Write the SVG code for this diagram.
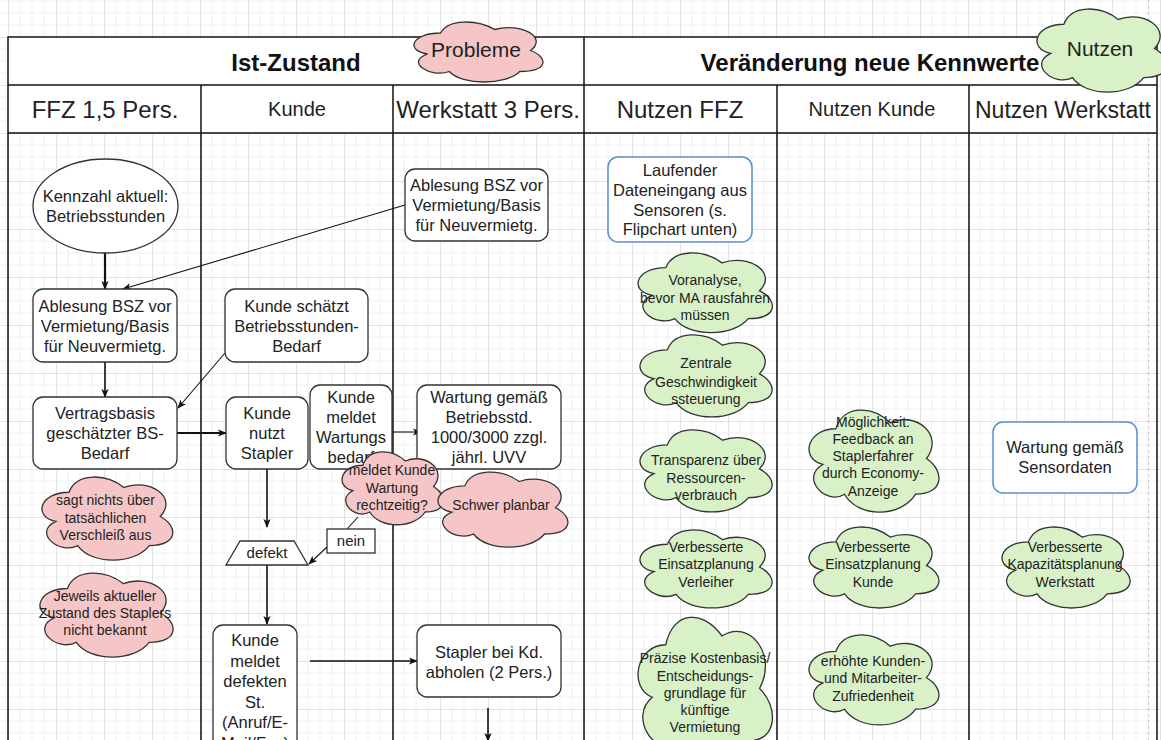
<svg xmlns="http://www.w3.org/2000/svg" xmlns:xlink="http://www.w3.org/1999/xlink" width="1161" height="740" viewBox="0 0 1161 740">
<style>
text{font-family:"Liberation Sans",Arial,sans-serif;fill:#222;text-anchor:middle}
.h1{font-size:24px;font-weight:bold;fill:#111}
.h2{font-size:24px;fill:#222}
.h2s{font-size:20px;fill:#222}
.t{font-size:16.5px}
.c{font-size:14px}
.box{fill:#fff;stroke:#333;stroke-width:1.3}
.bbox{fill:#fff;stroke:#5a8fd0;stroke-width:1.5}
.pink{fill:#f6c6c6;stroke:#333;stroke-width:1.3}
.green{fill:#d8f1c6;stroke:#333;stroke-width:1.3}
.lane{stroke:#111;stroke-width:1.5;fill:none}
.e{stroke:#111;fill:none}
.e1{stroke-width:1.1}
.e2{stroke-width:1.6}
.e3{stroke-width:2.2}
</style>
<defs>
<pattern id="grid" x="8" y="37" width="48" height="48" patternUnits="userSpaceOnUse">
<path d="M12 0V48M24 0V48M36 0V48M0 12H48M0 24H48M0 36H48" stroke="#f1f1f1" stroke-width="1" fill="none"/>
<path d="M0.5 0V48M0 0.5H48" stroke="#e2e2e2" stroke-width="1" fill="none"/>
</pattern>
<path id="cloud" vector-effect="non-scaling-stroke" d="M0.25 0.25C0.05 0.25 0 0.5 0.16 0.55C0 0.66 0.18 0.9 0.31 0.8C0.4 1 0.7 1 0.8 0.8C1 0.8 1 0.6 0.875 0.5C1 0.3 0.8 0.1 0.625 0.2C0.5 0.05 0.3 0.05 0.25 0.25Z"/>
<marker id="arr" viewBox="0 0 10 10" refX="9" refY="5" markerWidth="9" markerHeight="9" markerUnits="userSpaceOnUse" orient="auto">
<path d="M0 1L10 5L0 9L2.5 5Z" fill="#111"/>
</marker>
</defs>
<rect width="1161" height="740" fill="#fff"/>
<rect width="1161" height="740" fill="url(#grid)"/>
<line x1="1148.5" y1="0" x2="1148.5" y2="740" stroke="#c8c8c8" stroke-width="1" stroke-dasharray="3 3"/>

<g id="table">
<rect x="8" y="37" width="1149" height="96" fill="#fff"/>
<path class="lane" d="M8 740V37H1157V740M8 85H1157M8 133H1157M584 37V740M201 85V740M393 85V740M777 85V740M969 85V740"/>
<text class="h1" x="296" y="71">Ist-Zustand</text>
<text class="h1" x="870" y="71">Veränderung neue Kennwerte</text>
<text class="h2" x="105" y="118">FFZ 1,5 Pers.</text>
<text class="h2s" x="297" y="116">Kunde</text>
<text class="h2" x="488" y="118">Werkstatt 3 Pers.</text>
<text class="h2" x="680" y="118">Nutzen FFZ</text>
<text class="h2s" x="872" y="116">Nutzen Kunde</text>
<text class="h2" x="1063" y="118" style="font-size:23px">Nutzen Werkstatt</text>
</g>

<g id="probleme"><use href="#cloud" class="pink" transform="translate(404.6 15.5) scale(144 70)"/><text x="476" y="57" style="font-size:21px">Probleme</text></g>
<g id="nutzen"><use href="#cloud" class="green" transform="translate(1027.6 0) scale(145 97)"/><text x="1100" y="56" style="font-size:21px">Nutzen</text></g>

<g id="connectors">
<line class="e e3" x1="105" y1="253" x2="105" y2="289" marker-end="url(#arr)"/>
<line class="e e1" x1="405" y1="205" x2="123" y2="289" marker-end="url(#arr)"/>
<line class="e e2" x1="105" y1="362" x2="105" y2="397" marker-end="url(#arr)"/>
<line class="e e1" x1="225" y1="353" x2="178" y2="408" marker-end="url(#arr)"/>
<line class="e e3" x1="177" y1="433" x2="226" y2="433" marker-end="url(#arr)"/>
<line class="e e1" x1="392" y1="432" x2="421" y2="432" marker-end="url(#arr)"/>
<line class="e e2" x1="267" y1="469" x2="267" y2="527" marker-end="url(#arr)"/>
<line class="e e1" x1="358" y1="517" x2="347" y2="529"/>
<line class="e e1" x1="327" y1="547" x2="309" y2="564" marker-end="url(#arr)"/>
<line class="e e2" x1="267" y1="565" x2="267" y2="624" marker-end="url(#arr)"/>
<line class="e e2" x1="310" y1="661" x2="417" y2="661" marker-end="url(#arr)"/>
<line class="e e2" x1="488" y1="708" x2="488" y2="741" marker-end="url(#arr)"/>
</g>

<g id="kennzahl"><ellipse cx="105.5" cy="206" rx="72.5" ry="47" class="box"/><text class="t" x="105.5" y="202">Kennzahl aktuell:</text><text class="t" x="105.5" y="222">Betriebsstunden</text></g>
<g id="ablesung-ffz"><rect x="33" y="289" width="144" height="73" rx="10" class="box"/><text class="t" x="105" y="311.5">Ablesung BSZ vor</text><text class="t" x="105" y="331.5">Vermietung/Basis</text><text class="t" x="105" y="351.5">für Neuvermietg.</text></g>
<g id="vertragsbasis"><rect x="33" y="397" width="144" height="72" rx="10" class="box"/><text class="t" x="105" y="419">Vertragsbasis</text><text class="t" x="105" y="439">geschätzter BS-</text><text class="t" x="105" y="459">Bedarf</text></g>
<g id="kunde-schaetzt"><rect x="225" y="289" width="143" height="73" rx="10" class="box"/><text class="t" x="296.5" y="311.5">Kunde schätzt</text><text class="t" x="296.5" y="331.5">Betriebsstunden-</text><text class="t" x="296.5" y="351.5">Bedarf</text></g>
<g id="kunde-nutzt"><rect x="226" y="397" width="82" height="72" rx="10" class="box"/><text class="t" x="267" y="419">Kunde</text><text class="t" x="267" y="439">nutzt</text><text class="t" x="267" y="459">Stapler</text></g>
<g id="kunde-meldet-wartung"><rect x="310" y="385" width="82" height="84" rx="10" class="box"/><text class="t" x="351" y="403">Kunde</text><text class="t" x="351" y="423">meldet</text><text class="t" x="351" y="443">Wartungs</text><text class="t" x="351" y="463">bedarf</text></g>
<g id="ablesung-werkstatt"><rect x="405" y="169" width="143" height="72" rx="10" class="box"/><text class="t" x="476.5" y="191">Ablesung BSZ vor</text><text class="t" x="476.5" y="211">Vermietung/Basis</text><text class="t" x="476.5" y="231">für Neuvermietg.</text></g>
<g id="wartung-betriebsstd"><rect x="417" y="385" width="144" height="84" rx="10" class="box"/><text class="t" x="489" y="403">Wartung gemäß</text><text class="t" x="489" y="423">Betriebsstd.</text><text class="t" x="489" y="443">1000/3000 zzgl.</text><text class="t" x="489" y="463">jährl. UVV</text></g>
<g id="stapler-abholen"><rect x="417" y="625" width="144" height="72" rx="10" class="box"/><text class="t" x="489" y="658">Stapler bei Kd.</text><text class="t" x="489" y="678">abholen (2 Pers.)</text></g>
<g id="kunde-meldet-defekt"><rect x="213" y="625" width="84" height="135" rx="10" class="box"/><text class="t" x="255" y="646">Kunde</text><text class="t" x="255" y="666.5">meldet</text><text class="t" x="255" y="687">defekten</text><text class="t" x="255" y="707.5">St.</text><text class="t" x="255" y="728">(Anruf/E-</text><text class="t" x="255" y="748.5">Mail/Fax)</text></g>
<g id="defekt"><polygon points="240,541 294,541 308,565 226,565" class="box"/><text x="267" y="558" style="font-size:15px">defekt</text></g>
<g id="nein"><rect x="327" y="529" width="48" height="24" fill="#fff" stroke="#222" stroke-width="1.2"/><text x="351" y="546" style="font-size:15px">nein</text></g>

<g id="sagt-nichts"><use href="#cloud" class="pink" transform="translate(32.5 468) scale(146 97)"/><text class="c" x="105.5" y="505">sagt nichts über</text><text class="c" x="105.5" y="522.5">tatsächlichen</text><text class="c" x="105.5" y="540">Verschleiß aus</text></g>
<g id="jeweils"><use href="#cloud" class="pink" transform="translate(30.3 564) scale(148.6 98)"/><text class="c" x="105" y="601">Jeweils aktueller</text><text class="c" x="105" y="618">Zustand des Staplers</text><text class="c" x="105" y="635">nicht bekannt</text></g>
<g id="meldet-rechtzeitig"><use href="#cloud" class="pink" transform="translate(334.7 444) scale(113 85)"/><text class="c" x="392" y="475">meldet Kunde</text><text class="c" x="392" y="492.5">Wartung</text><text class="c" x="392" y="510">rechtzeitig?</text></g>
<g id="schwer-planbar"><use href="#cloud" class="pink" transform="translate(428.6 464) scale(145 87.5)"/><text class="c" x="501" y="510">Schwer planbar</text></g>

<g id="laufender"><rect x="608" y="157" width="144" height="85" rx="10" class="bbox"/><text class="t" x="680" y="176">Laufender</text><text class="t" x="680" y="196">Dateneingang aus</text><text class="t" x="680" y="216">Sensoren (s.</text><text class="t" x="680" y="235">Flipchart unten)</text></g>
<g id="voranalyse"><use href="#cloud" class="green" transform="translate(628.3 244.3) scale(150 93)"/><text class="c" x="705" y="285">Voranalyse,</text><text class="c" x="705" y="303">bevor MA rausfahren</text><text class="c" x="705" y="320">müssen</text></g>
<g id="zentrale"><use href="#cloud" class="green" transform="translate(630.4 326) scale(147.5 95.7)"/><text class="c" x="706" y="368">Zentrale</text><text class="c" x="706" y="387">Geschwindigkeit</text><text class="c" x="706" y="404">ssteuerung</text></g>
<g id="transparenz"><use href="#cloud" class="green" transform="translate(630.4 421) scale(147.5 95.7)"/><text class="c" x="706" y="465">Transparenz über</text><text class="c" x="706" y="483">Ressourcen-</text><text class="c" x="706" y="500">verbrauch</text></g>
<g id="einsatz-verleiher"><use href="#cloud" class="green" transform="translate(630.4 521.5) scale(147.5 91)"/><text class="c" x="706" y="552">Verbesserte</text><text class="c" x="706" y="569">Einsatzplanung</text><text class="c" x="706" y="587">Verleiher</text></g>
<g id="praezise"><use href="#cloud" class="green" transform="translate(628.3 601) scale(150 175)"/><text class="c" x="705" y="663">Präzise Kostenbasis/</text><text class="c" x="705" y="681">Entscheidungs-</text><text class="c" x="705" y="698">grundlage für</text><text class="c" x="705" y="715">künftige</text><text class="c" x="705" y="732">Vermietung</text></g>

<g id="moeglichkeit"><use href="#cloud" class="green" transform="translate(799.6 399) scale(145 119)"/><text class="c" x="873" y="427">Möglichkeit:</text><text class="c" x="873" y="444">Feedback an</text><text class="c" x="873" y="461">Staplerfahrer</text><text class="c" x="873" y="478">durch Economy-</text><text class="c" x="873" y="496">Anzeige</text></g>
<g id="einsatz-kunde"><use href="#cloud" class="green" transform="translate(799.6 518.2) scale(145 94.5)"/><text class="c" x="873" y="552">Verbesserte</text><text class="c" x="873" y="569">Einsatzplanung</text><text class="c" x="873" y="587">Kunde</text></g>
<g id="zufriedenheit"><use href="#cloud" class="green" transform="translate(799.6 625.2) scale(145 105)"/><text class="c" x="873" y="666">erhöhte Kunden-</text><text class="c" x="873" y="683">und Mitarbeiter-</text><text class="c" x="873" y="701">Zufriedenheit</text></g>

<g id="wartung-sensordaten"><rect x="993" y="422" width="144" height="71" rx="10" class="bbox"/><text class="t" x="1065" y="453">Wartung gemäß</text><text class="t" x="1065" y="473">Sensordaten</text></g>
<g id="kapazitaet"><use href="#cloud" class="green" transform="translate(992.7 518.2) scale(143 94.5)"/><text class="c" x="1065" y="552">Verbesserte</text><text class="c" x="1065" y="569">Kapazitätsplanung</text><text class="c" x="1065" y="587">Werkstatt</text></g>
</svg>
